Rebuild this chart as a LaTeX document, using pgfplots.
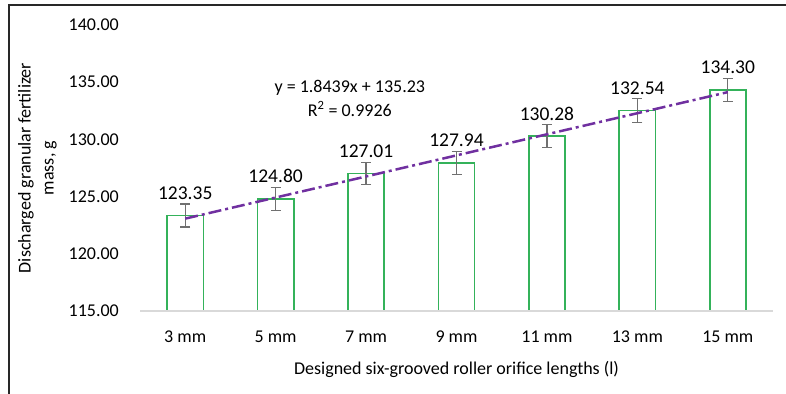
\documentclass[border=0pt]{standalone}
\usepackage{pgfplots}
\pgfplotsset{compat=1.18}
\usepackage{pgfplotstable}
\usepackage{fontspec}
\setmainfont{Carlito}

\definecolor{bargreen}{RGB}{52,178,90}
\definecolor{errgray}{RGB}{112,112,112}
\definecolor{trendpurple}{RGB}{112,48,160}
\definecolor{axisgray}{RGB}{217,217,217}
\definecolor{framegray}{RGB}{40,40,40}

% mean discharged mass (g) and its error, one row per orifice length
\pgfplotstableread{
x mass err
0 123.35 1.00
1 124.80 1.00
2 127.01 0.95
3 127.94 1.00
4 130.28 1.00
5 132.54 1.05
6 134.30 1.00
}\massdata

\begin{document}
\begin{tikzpicture}
\useasboundingbox (0,0) rectangle (786bp,394bp);
\draw[framegray, line width=1.6bp] (9bp,0) -- (9bp,389bp) -- (786bp,389bp);
\begin{axis}[
  at={(140bp,83bp)}, anchor=south west,
  scale only axis, width=633bp, height=286bp,
  xmin=-0.5, xmax=6.5, ymin=115, ymax=140,
  ytick={115,120,...,140},
  xtick={0,...,6},
  xticklabels={3 mm,5 mm,7 mm,9 mm,11 mm,13 mm,15 mm},
  axis line style={draw=none},
  major tick length=0pt,
  tick style={draw=none},
  /pgf/number format/assume math mode=true,
  yticklabel style={/pgf/number format/.cd, fixed, fixed zerofill, precision=2, /tikz/.cd,
    anchor=east, inner sep=0pt, xshift=-21bp, font=\fontsize{18bp}{21bp}\selectfont},
  xticklabel style={anchor=center, yshift=-26bp, font=\fontsize{18bp}{21bp}\selectfont},
  xlabel={Designed six-grooved roller orifice lengths (l)},
  xlabel style={at={(axis description cs:0.5,0)}, anchor=center, yshift=-58bp,
    font=\fontsize{18bp}{21bp}\selectfont},
  ylabel={Discharged granular fertilizer\\mass, g},
  ylabel style={at={(axis description cs:-0.162,0.5)}, anchor=center, align=center,
    font=\fontsize{18bp}{23bp}\selectfont},
]
\addplot[ybar, bar width=0.4, draw=bargreen, fill=white, line width=1.6bp,
  nodes near coords={\pgfmathprintnumber[fixed,fixed zerofill,precision=2]{\pgfplotspointmeta}},
  nodes near coords style={anchor=center, yshift=22.5bp, text=black,
    font=\fontsize{19.5bp}{22bp}\selectfont},
  error bars/.cd, y dir=both, y explicit,
  error bar style={errgray, line width=1.3bp},
  error mark options={errgray, rotate=90, mark size=5bp, line width=1.3bp}]
  table[x=x, y=mass, y error=err] {\massdata};
% least-squares trend line of the seven means
\addplot[trendpurple, line width=2.5bp, dash pattern=on 13bp off 4bp on 3bp off 4bp]
  coordinates {(0,123.074) (6,134.131)};
\node[align=center, font=\fontsize{18bp}{24bp}\selectfont] at (axis cs:1.82,133.62)
  {y = 1.8439x + 135.23\\R\textsuperscript{2} = 0.9926};
\end{axis}
\draw[axisgray, line width=1.5bp] (140bp,83bp) -- (773bp,83bp);
\end{tikzpicture}
\end{document}
